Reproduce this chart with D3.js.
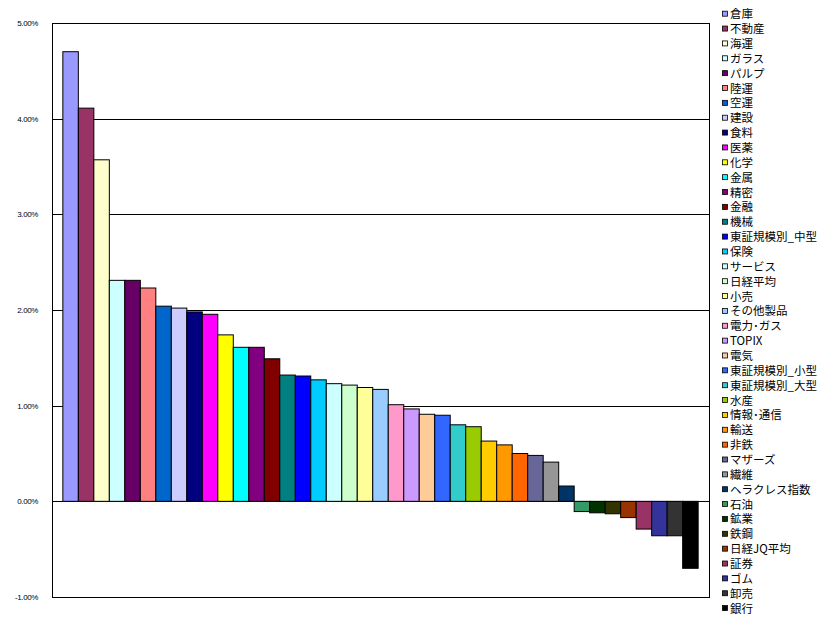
<!DOCTYPE html>
<html>
<head>
<meta charset="utf-8">
<script src="https://cdn.jsdelivr.net/npm/d3@7"></script>
<style>
body { margin: 0; background: #fff; }
svg { display: block; }
</style>
</head>
<body>
<svg id="chart" width="831" height="628"></svg>
<script>
var sectors = ["倉庫", "不動産", "海運", "ガラス", "パルプ", "陸運", "空運", "建設", "食料", "医薬",
    "化学", "金属", "精密", "金融", "機械", "東証規模別_中型", "保険", "サービス", "日経平均", "小売",
    "その他製品", "電力･ガス", "TOPIX", "電気", "東証規模別_小型", "東証規模別_大型", "水産", "情報･通信", "輸送", "非鉄",
    "マザーズ", "繊維", "ヘラクレス指数", "石油", "鉱業", "鉄鋼", "日経JQ平均", "証券", "ゴム", "卸売", "銀行"]

var changes = [4.70, 4.11, 3.57, 2.31, 2.31, 2.23, 2.04, 2.02, 1.98, 1.955,
    1.74, 1.61, 1.61, 1.49, 1.32, 1.31, 1.27, 1.23, 1.215, 1.19,
    1.17, 1.01, 0.966, 0.91, 0.90, 0.80, 0.78, 0.63, 0.59, 0.50,
    0.48, 0.41, 0.16, -0.107, -0.12, -0.13, -0.17, -0.29, -0.36, -0.36, -0.70]

var colors = ["#9999FF", "#993366", "#FFFFCC", "#CCFFFF", "#660066", "#FF8080", "#0066CC", "#CCCCFF", "#000080", "#FF00FF",
    "#FFFF00", "#00FFFF", "#800080", "#800000", "#008080", "#0000FF", "#00CCFF", "#CCFFFF", "#CCFFCC", "#FFFF99",
    "#99CCFF", "#FF99CC", "#CC99FF", "#FFCC99", "#3366FF", "#33CCCC", "#99CC00", "#FFCC00", "#FF9900", "#FF6600",
    "#666699", "#969696", "#003366", "#339966", "#003300", "#333300", "#993300", "#993366", "#333399", "#333333", "#000000"]

var yTicks = [5, 4, 3, 2, 1, 0, -1]

var svg = d3.select("#chart")
var plotLeft = 52, plotRight = 709, plotTop = 23, plotBottom = 597

var x = d3.scaleBand()
    .domain(sectors)
    .range([plotLeft, plotRight])
    .paddingInner(0)
    .paddingOuter(0.7)

var y = d3.scaleLinear()
    .domain([-1, 5])
    .range([plotBottom, plotTop])

// gridlines
svg.append("g")
    .selectAll("line")
    .data(yTicks.filter(function(d) { return d > -1 && d < 5 }))
    .enter()
    .append("line")
    .attr("x1", plotLeft)
    .attr("x2", plotRight)
    .attr("y1", function(d) { return Math.round(y(d)) + 0.5 })
    .attr("y2", function(d) { return Math.round(y(d)) + 0.5 })
    .attr("stroke", "#000")
    .attr("stroke-width", 1)

// bars
svg.append("g")
    .selectAll("rect")
    .data(changes)
    .enter()
    .append("rect")
    .attr("x", function(d, i) { return x(sectors[i]) })
    .attr("y", function(d) { return y(Math.max(0, d)) })
    .attr("width", x.bandwidth())
    .attr("height", function(d) { return Math.abs(y(d) - y(0)) })
    .attr("fill", function(d, i) { return colors[i] })
    .attr("stroke", "#000")
    .attr("stroke-width", 1)

// plot frame
svg.append("rect")
    .attr("x", plotLeft + 0.5)
    .attr("y", plotTop + 0.5)
    .attr("width", plotRight - plotLeft)
    .attr("height", plotBottom - plotTop)
    .attr("fill", "none")
    .attr("stroke", "#000")

// y axis labels
var yAxis = d3.axisLeft(y)
    .tickValues(yTicks)
    .tickSize(0)
    .tickPadding(14)
    .tickFormat(function(d) { return d.toFixed(2) + "%" })

svg.append("g")
    .attr("transform", "translate(" + plotLeft + ",0)")
    .call(yAxis)
    .call(function(g) { g.select(".domain").remove() })
    .selectAll("text")
    .style("font-family", "Liberation Sans, Arial, sans-serif")
    .style("font-size", "8px")
    .style("letter-spacing", "-0.4px")
    .attr("fill", "#000")

// legend
var legend = svg.append("g")
    .selectAll("g")
    .data(sectors)
    .enter()
    .append("g")
    .attr("transform", function(d, i) { return "translate(722," + (13.7 + i * 14.86) + ")" })

legend.append("rect")
    .attr("x", 0.5)
    .attr("y", -2.5)
    .attr("width", 5)
    .attr("height", 5)
    .attr("fill", function(d, i) { return colors[i] })
    .attr("stroke", "#000")
    .attr("stroke-width", 0.8)

legend.append("text")
    .attr("x", 8)
    .attr("y", 4.5)
    .style("font-family", "Noto Sans CJK JP, sans-serif")
    .style("font-size", "11.5px")
    .attr("fill", "#000")
    .text(function(d) { return d })
</script>
</body>
</html>
